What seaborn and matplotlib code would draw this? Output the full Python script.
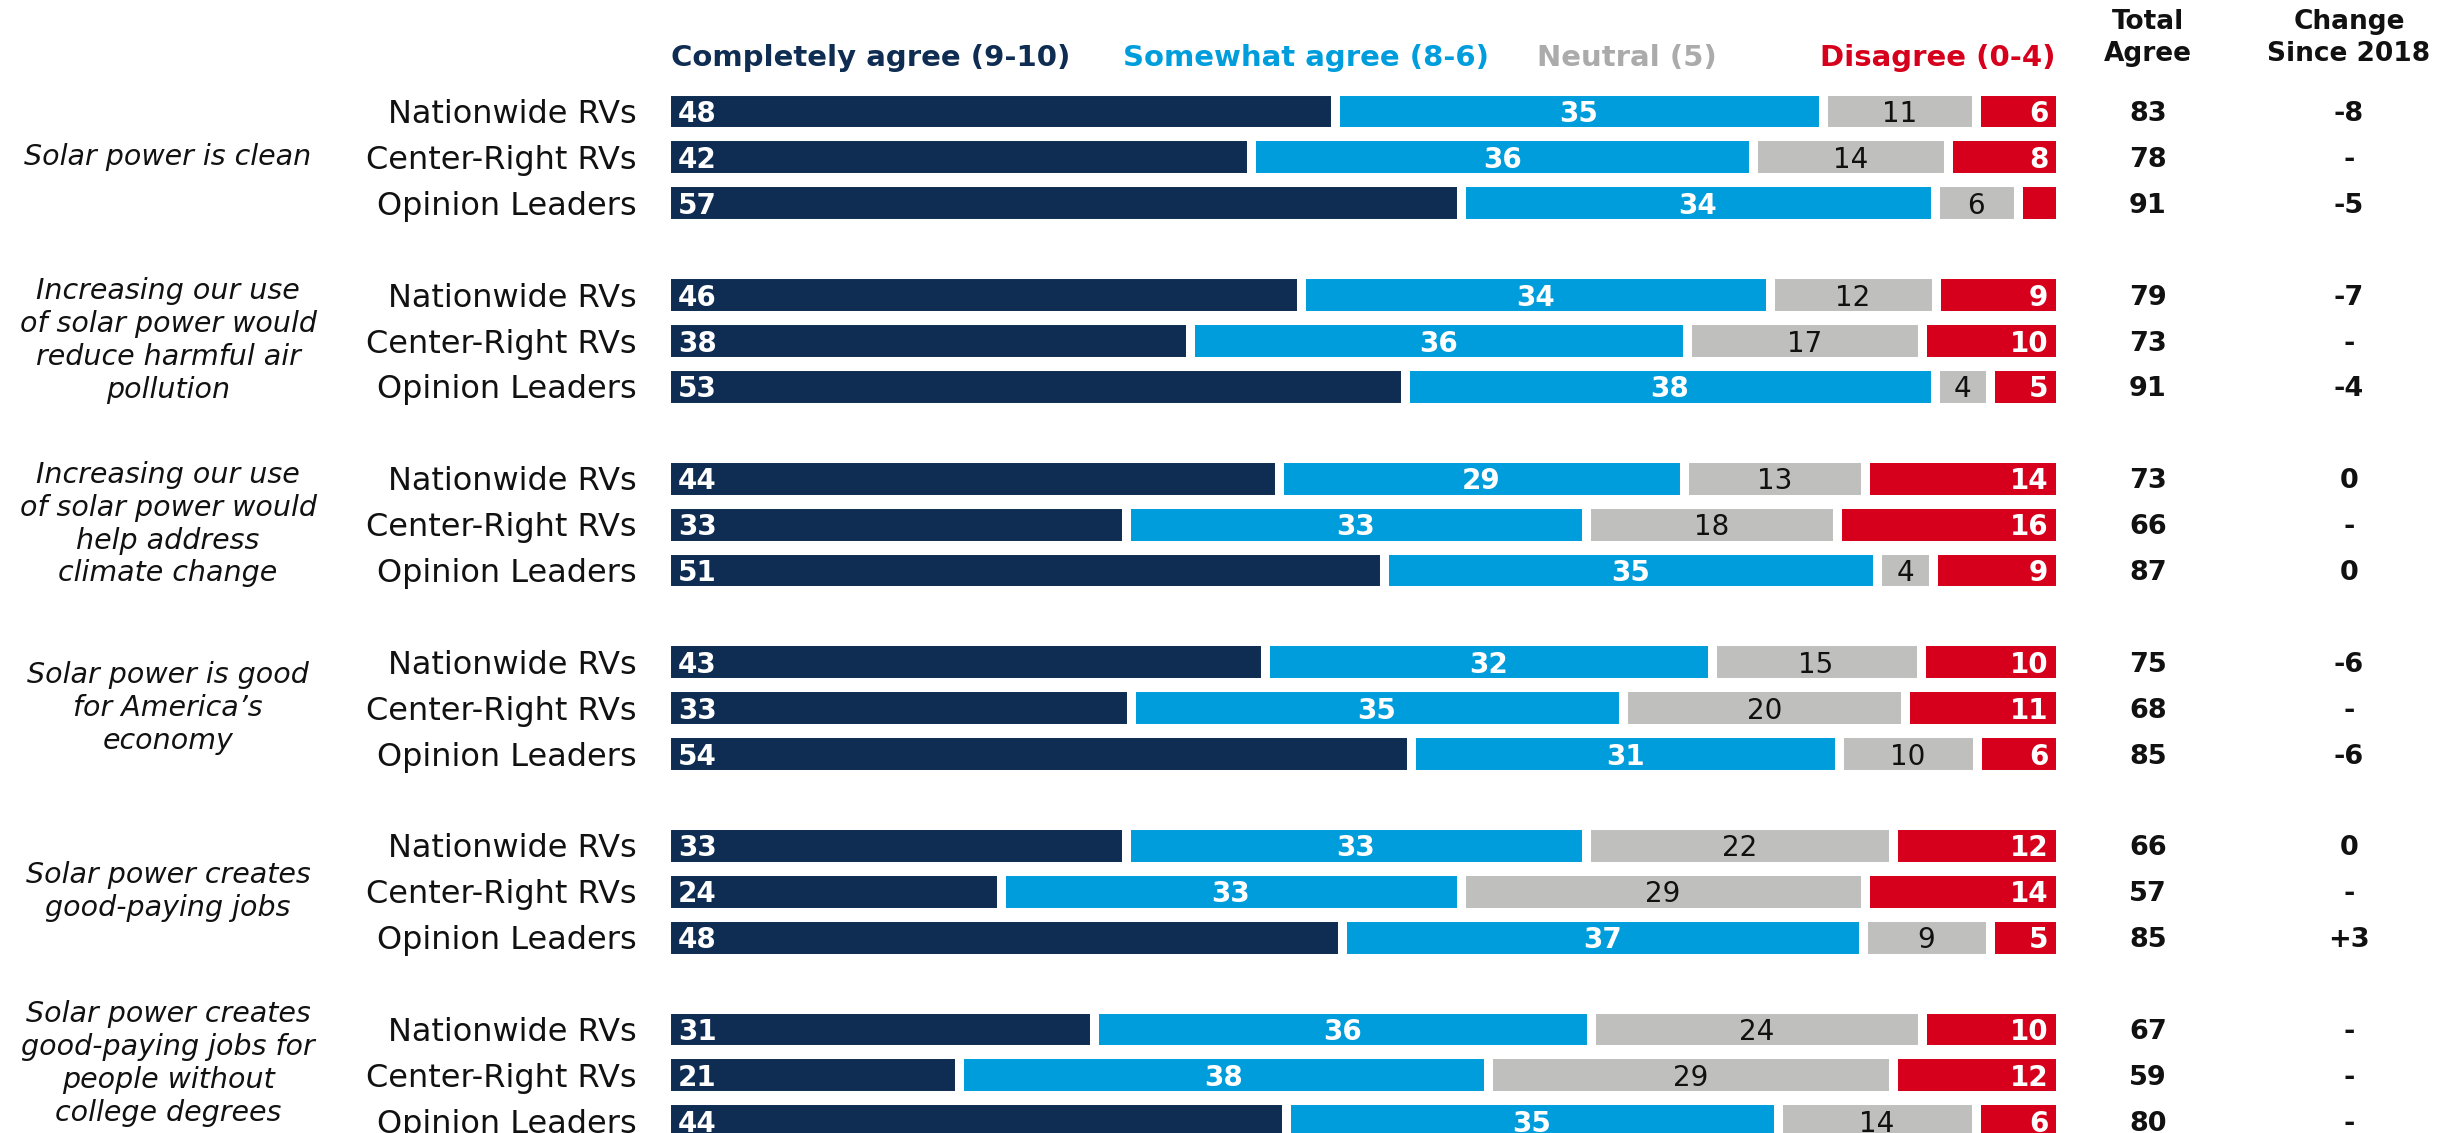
import matplotlib
matplotlib.use("Agg")
import matplotlib.pyplot as plt
import numpy as np
import pandas as pd
import seaborn as sns

# ---- data -------------------------------------------------------------
questions = [
    "Solar power is clean",
    "Increasing our use\nof solar power would\nreduce harmful air\npollution",
    "Increasing our use\nof solar power would\nhelp address\nclimate change",
    "Solar power is good\nfor America\u2019s\neconomy",
    "Solar power creates\ngood-paying jobs",
    "Solar power creates\ngood-paying jobs for\npeople without\ncollege degrees",
]
audiences = ["Nationwide RVs", "Center-Right RVs", "Opinion Leaders"]

completely_agree = [48, 42, 57, 46, 38, 53, 44, 33, 51, 43, 33, 54, 33, 24, 48, 31, 21, 44]
somewhat_agree = [35, 36, 34, 34, 36, 38, 29, 33, 35, 32, 35, 31, 33, 33, 37, 36, 38, 35]
neutral = [11, 14, 6, 12, 17, 4, 13, 18, 4, 15, 20, 10, 22, 29, 9, 24, 29, 14]
disagree = [6, 8, 3, 9, 10, 5, 14, 16, 9, 10, 11, 6, 12, 14, 5, 10, 12, 6]
total_agree = [83, 78, 91, 79, 73, 91, 73, 66, 87, 75, 68, 85, 66, 57, 85, 67, 59, 80]
change_2018 = ["-8", "-", "-5", "-7", "-", "-4", "0", "-", "0",
               "-6", "-", "-6", "0", "-", "+3", "-", "-", "-"]

segments = ["Completely agree (9-10)", "Somewhat agree (8-6)", "Neutral (5)", "Disagree (0-4)"]
colors = ["#0F2D52", "#009DDC", "#BFBFBE", "#D6001C"]
legend_colors = ["#0F2D52", "#009DDC", "#ABABAB", "#D6001C"]

sns.set_theme(style="white")
plt.rcParams["font.family"] = ["DejaVu Sans"]
INK = "#111111"

# ---- long table: one row per (row key, segment) -------------------------
order = []
row_keys = []
for g in range(len(questions)):
    for a in range(len(audiences)):
        key = f"q{g}-{a}"
        order.append(key)
        row_keys.append(key)
    if g < len(questions) - 1:
        order.append(f"gap{g}")

values = np.array([completely_agree, somewhat_agree, neutral, disagree], dtype=float).T
shares = values / values.sum(axis=1, keepdims=True) * 100
cum_end = np.cumsum(shares, axis=1)
cum_start = cum_end - shares

records = []
for i, key in enumerate(row_keys):
    for s, seg in enumerate(segments):
        records.append({"row": key, "segment": seg, "value": values[i, s],
                        "start": cum_start[i, s], "end": cum_end[i, s]})
df = pd.DataFrame(records)

# ---- figure -------------------------------------------------------------
W, H = 2446, 1133
fig = plt.figure(figsize=(W / 100, H / 100), dpi=100)
ax = fig.add_axes([0, 0, 1, 1])

x0_px, px_per_unit = 666, 13.94
y0_px, px_per_row = 111, 45.9
gap_pt = 6.5

# draw right-most segment first, each later (shorter) cumulative bar on top
for s in reversed(range(len(segments))):
    sub = df[df["segment"] == segments[s]]
    sns.barplot(data=sub, x="end", y="row", order=order, orient="h",
                color=colors[s], saturation=1, errorbar=None, width=0.89,
                edgecolor="white", linewidth=gap_pt, ax=ax)

ax.set_xlim(-x0_px / px_per_unit, (W - x0_px) / px_per_unit)
ax.set_ylim((H - y0_px) / px_per_row, -y0_px / px_per_row)
ax.set_axis_off()


def ypos(px):
    return (px - y0_px) / px_per_row


def xpos(px):
    return (px - x0_px) / px_per_unit


pad = 0.85  # in percent units
for i, key in enumerate(row_keys):
    y = order.index(key)
    # numbers inside segments
    for s in range(len(segments)):
        v = values[i, s]
        if v < 4:
            continue
        st, en = cum_start[i, s], cum_end[i, s]
        label = f"{v:.0f}"
        if s == 0:
            ax.text(st + pad, y, label, ha="left", va="center_baseline", color="white",
                    fontsize=20, fontweight="bold")
        elif s == 1:
            ax.text((st + en) / 2, y, label, ha="center", va="center_baseline",
                    color="white", fontsize=20, fontweight="bold")
        elif s == 2:
            ax.text((st + en) / 2, y, label, ha="center", va="center_baseline",
                    color=INK, fontsize=20)
        else:
            ax.text(en - pad, y, label, ha="right", va="center_baseline", color="white",
                    fontsize=20, fontweight="bold")
    # audience label
    ax.text(xpos(637), y, audiences[i % 3], ha="right", va="center_baseline",
            fontsize=23, color=INK)
    # right-hand columns
    ax.text(xpos(2148), y, f"{total_agree[i]}", ha="center", va="center_baseline",
            fontsize=19.5, fontweight="bold", color=INK)
    ax.text(xpos(2349), y, change_2018[i], ha="center", va="center_baseline",
            fontsize=19.5, fontweight="bold", color=INK)

# question labels, centred on the middle row of each block,
# nudged up if a block's text would run past the bottom of the figure
fig.canvas.draw()
renderer = fig.canvas.get_renderer()
for g, q in enumerate(questions):
    y = order.index(f"q{g}-1")
    t = ax.text(xpos(168), y, q, ha="center", va="center", fontsize=20.5,
                style="italic", color=INK, linespacing=1.22)
    bb = t.get_window_extent(renderer)
    if bb.y0 < 6:
        t.set_y(y - (6 - bb.y0) / px_per_row)

# legend header
legend_x = [xpos(671), xpos(1123), xpos(1537), xpos(2055)]
for s, seg in enumerate(segments):
    ax.text(legend_x[s], ypos(55), seg, ha="right" if s == 3 else "left",
            va="center_baseline", fontsize=21, fontweight="bold", color=legend_colors[s])

# column headers
ax.text(xpos(2148), ypos(38), "Total\nAgree", ha="center", va="center",
        fontsize=19, fontweight="bold", color=INK, linespacing=1.32)
ax.text(xpos(2349), ypos(38), "Change\nSince 2018", ha="center", va="center",
        fontsize=19, fontweight="bold", color=INK, linespacing=1.32)

fig.savefig("out.png", dpi=100, facecolor="white")
